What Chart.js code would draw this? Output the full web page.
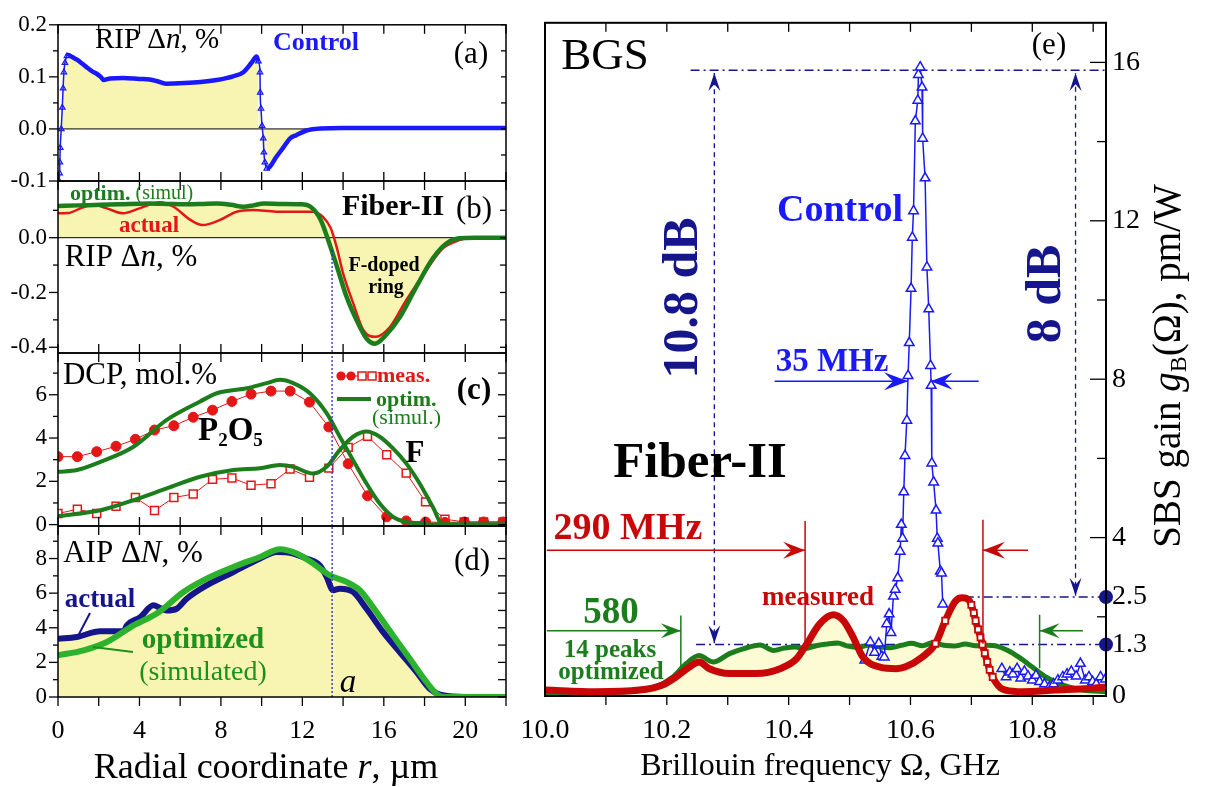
<!DOCTYPE html>
<html>
<head>
<meta charset="utf-8">
<script src="https://cdn.jsdelivr.net/npm/chart.js@4.4.1/dist/chart.umd.min.js"></script>
<style>
  body { margin: 0; background: #fff; }
  #wrap { position: relative; width: 1205px; height: 787px; }
  canvas { position: absolute; left: 0; top: 0; }
</style>
</head>
<body>
<div id="wrap">
  <canvas id="panelA" width="1205" height="787"></canvas>
  <canvas id="panelB" width="1205" height="787"></canvas>
  <canvas id="panelC" width="1205" height="787"></canvas>
  <canvas id="panelD" width="1205" height="787"></canvas>
  <canvas id="panelE" width="1205" height="787"></canvas>
</div>
<script>
// ---------- data ----------

// (a) Control fiber, refractive index profile, %
const rA = [0.05,0.08,0.09,0.11,0.16,0.21,0.25,0.29,0.34,0.44,0.52,0.7,0.93,1.2,1.42,1.7,1.9,2.1,2.24,2.56,3.2,4.0,4.5,4.85,5.3,6.2,7.0,7.8,8.6,9.1,9.5,9.75,9.84,9.92,9.93,9.97,10.02,10.08,10.11,10.16,10.25,10.4,10.7,11.06,11.4,11.7,12.2,12.9,14,16,18,20,22];
const dnControl = [-0.1,-0.085,-0.064,-0.036,0,0.041,0.078,0.109,0.127,0.14,0.142,0.138,0.133,0.125,0.118,0.11,0.106,0.1,0.094,0.097,0.098,0.096,0.095,0.092,0.087,0.088,0.09,0.094,0.101,0.109,0.127,0.139,0.13,0.109,0.07,0.039,0.006,-0.018,-0.045,-0.064,-0.076,-0.073,-0.055,-0.036,-0.018,-0.012,-0.003,0.001,0.002,0.002,0.002,0.002,0.002];

// (b) Fiber-II RIP: optimized and actual
const rOptB = [0,1,2.1,3,4.5,5.5,6.3,7.0,7.8,8.5,9.1,9.6,10.1,11,11.9,12.4,12.9,13.27,13.7,14.17,14.66,15.15,15.56,16.1,16.8,17.6,18.4,19.07,19.7,20.5,22];
const dnOptB = [0.116,0.118,0.12,0.122,0.125,0.123,0.122,0.123,0.125,0.12,0.113,0.118,0.125,0.123,0.122,0.113,0.065,-0.009,-0.106,-0.216,-0.301,-0.368,-0.387,-0.356,-0.289,-0.179,-0.076,-0.021,-0.002,0,0];
const rActB = [0,0.5,1.2,1.75,2.4,3.2,4.0,5.0,5.67,6.5,7.1,7.96,8.77,9.6,10.7,12.5,13.0,13.4,13.68,14.0,14.5,15.0,15.6,16.3,17.1,18.1,18.9,19.7,20.4,22];
const dnActB = [0.089,0.09,0.11,0.12,0.107,0.089,0.107,0.129,0.113,0.065,0.046,0.065,0.095,0.101,0.095,0.095,0.077,0.034,-0.033,-0.13,-0.24,-0.338,-0.362,-0.326,-0.228,-0.118,-0.039,-0.009,0,0];

// (c) dopant concentration profiles, mol.%
const rMeasC = [0,0.95,1.9,2.85,3.8,4.74,5.69,6.64,7.59,8.54,9.48,10.46,11.4,12.35,13.3,14.25,15.2,16.14,17.1,18.05,19.0,19.95,20.9,21.85];
const p2o5Meas = [3.14,3.14,3.37,3.62,3.94,4.37,4.57,4.96,5.29,5.69,6.03,6.17,6.17,5.66,4.51,2.81,1.33,0.36,0.17,0.12,0.1,0.12,0.12,0.12];
const fMeas = [0.51,0.71,0.51,0.85,1.25,0.65,1.25,1.41,2.09,2.15,1.82,1.89,2.57,2.19,2.61,3.57,4.08,3.23,2.38,1.05,0.25,0.12,0.12,0.12];
const rOptP = [0,0.93,2.08,3.71,5.34,6.98,7.8,9.26,10.25,10.9,11.55,12.37,13.19,13.84,14.49,15.15,15.8,16.45,17.1,17.76,18.4,22];
const p2o5Opt = [2.44,2.52,2.9,3.6,4.84,5.69,6.07,6.3,6.54,6.69,6.54,6.07,5.15,4.06,2.98,1.9,0.97,0.36,0.12,0.05,0,0];
const rOptF = [0,2.08,3.71,5.34,6.98,8.61,9.92,10.9,11.55,12.53,13.19,13.84,14.49,15.15,15.8,16.45,17.1,17.76,18.4,18.9,22];
const fOpt = [0.39,0.66,1.13,1.67,2.21,2.52,2.6,2.75,2.67,2.36,2.67,3.45,4.06,4.3,4.06,3.52,2.83,1.9,0.82,0,0];

// (d) acoustic index profile, %
const rActD = [0,0.93,2.08,3.22,3.38,4.04,4.69,5.02,5.34,5.83,6.32,7.3,8.61,9.92,10.74,11.55,12.2,12.86,13.19,13.51,13.84,14.49,15.15,15.96,16.78,17.6,18.25,18.9,20.05,22];
const dNAct = [3.37,3.47,3.8,3.8,4.14,4.62,5.3,5.14,5.0,5.1,5.68,6.45,7.22,8.0,8.38,8.29,8.0,7.6,6.94,6.17,6.26,6.07,5.1,3.76,2.6,1.45,0.48,0.1,0,0];
const rOptD = [0,1.26,2.4,3.71,4.85,6.16,7.3,8.61,9.92,10.9,11.72,12.53,13.35,14.17,14.82,15.64,16.45,17.27,18.09,18.74,19.07,22];
const dNOpt = [2.41,2.7,3.18,4.14,4.82,6.07,6.84,7.51,8.09,8.54,8.29,7.71,7.03,6.65,6.17,4.91,3.56,2.22,0.87,0.06,0,0];

const coreRadius = 13.46;   // "a", dotted line through (b)-(d)

// (e) Brillouin gain spectra, pm/W vs GHz
const fMeasE = [10.0,10.083,10.155,10.193,10.215,10.237,10.253,10.27,10.303,10.347,10.386,10.413,10.43,10.451,10.473,10.49,10.506,10.522,10.55,10.577,10.591,10.619,10.641,10.657,10.674,10.685,10.696,10.700,10.704,10.707,10.711,10.715,10.718,10.722,10.726,10.73,10.735,10.741,10.748,10.756,10.784,10.838,10.893,10.921];
const gMeas = [0.15,0.11,0.15,0.28,0.48,0.73,0.86,0.69,0.57,0.57,0.69,0.94,1.32,1.82,2.05,1.9,1.48,0.98,0.73,0.69,0.73,0.98,1.32,1.9,2.4,2.48,2.42,2.3,2.1,1.9,1.68,1.48,1.3,1.08,0.86,0.66,0.48,0.32,0.2,0.15,0.11,0.15,0.19,0.23];
const fOptE = [10.0,10.138,10.182,10.21,10.232,10.253,10.276,10.303,10.325,10.353,10.375,10.393,10.41,10.428,10.445,10.462,10.48,10.497,10.515,10.532,10.55,10.567,10.585,10.602,10.62,10.637,10.655,10.672,10.69,10.707,10.725,10.742,10.76,10.778,10.8,10.822,10.849,10.882,10.921];
const gOpt = [0.07,0.11,0.23,0.48,0.82,1.02,0.86,1.07,1.19,1.29,1.15,1.21,1.24,1.2,1.27,1.31,1.34,1.26,1.23,1.29,1.24,1.22,1.28,1.33,1.27,1.35,1.28,1.26,1.31,1.27,1.28,1.26,1.15,0.98,0.73,0.48,0.28,0.15,0.11];
const fCtrl = [10.525,10.534,10.541,10.548,10.553,10.557,10.561,10.565,10.568,10.572,10.575,10.579,10.583,10.585,10.587,10.589,10.591,10.594,10.596,10.598,10.601,10.603,10.605,10.608,10.612,10.613,10.616,10.619,10.620,10.624,10.627,10.630,10.633,10.634,10.635,10.638,10.642,10.644,10.645,10.649,10.651,10.653,10.70,10.75,10.757,10.763,10.768,10.775,10.781,10.787,10.793,10.8,10.806,10.812,10.82,10.828,10.835,10.842,10.85,10.857,10.864,10.872,10.879,10.887,10.893,10.899,10.905,10.912,10.92];
const gCtrl = [0.9,1.36,1.1,1.33,1.0,0.98,1.82,2.07,1.6,2.52,2.69,2.98,3.65,4.33,3.98,5.15,6.07,6.96,8.09,8.92,10.29,11.58,12.25,14.52,15.04,15.69,15.88,15.37,14.08,13.08,10.83,9.77,8.34,7.84,5.88,5.4,4.69,3.98,3.86,3.15,3.1,2.32,null,0.69,0.48,0.6,0.55,0.69,0.45,0.62,0.5,0.4,0.52,0.36,0.3,0.22,0.3,0.4,0.48,0.55,0.62,0.5,0.82,0.4,0.48,0.36,0.3,0.48,0.42];

// annotation levels in (e)
const gainLevels = [15.8, 2.5, 1.3];      // control peak, measured peak, optimized plateau
const levelStartX = [10.239, 10.689, 10.248];
const dBArrowX = [10.278, 10.871];         // 10.8 dB and 8 dB arrows
const fwhmCtrl = [10.596, 10.633];        // 35 MHz
const fwhmMeas = [10.427, 10.719];        // 290 MHz
const fwhmOpt = [10.223, 10.812];         // 580 MHz
const fMax = 10.921;

// tick labels
const xLabelsR = [0, 4, 8, 12, 16, 20];
const xLabelsF = [10.0, 10.2, 10.4, 10.6, 10.8];
const yLabelsA = [-0.1, 0, 0.1, 0.2];
const yLabelsB = [-0.4, -0.2, 0];
const yLabelsC = [0, 2, 4, 6];
const yLabelsD = [0, 2, 4, 6, 8];
const yLabelsE = [0, 1.3, 2.5, 4, 8, 12, 16];

// ---------- styles ----------
const SERIF = '"Liberation Serif", "DejaVu Serif", serif';
Chart.defaults.font.family = SERIF;
const BLUE = 'rgb(25,25,250)';
const NAVY = 'rgb(22,22,140)';
const RED = 'rgb(228,22,22)';
const DRED = 'rgb(200,8,8)';
const GREEN = 'rgb(28,125,28)';
const GREEN_D = 'rgb(28,145,28)';
const LGREEN = 'rgb(45,178,45)';
const YEL = 'rgb(248,245,178)';
const YEL2 = 'rgb(252,251,212)';
const DOT = 'rgb(40,40,215)';

function pts(xs, ys) { return xs.map((x, i) => ({ x: x, y: ys[i] })); }

function line(xs, ys, opt) {
  return Object.assign({
    data: pts(xs, ys), showLine: true, pointRadius: 0, borderWidth: 2,
    fill: false, spanGaps: false, tension: 0
  }, opt);
}

// true where the curve is steep (used to show markers only there)
function steepFlags(xs, ys, lim) {
  return ys.map((y, i) => {
    if (y == null) return false;
    let s = 0;
    if (i > 0 && ys[i - 1] != null) s = Math.max(s, Math.abs((y - ys[i - 1]) / (xs[i] - xs[i - 1])));
    if (i < ys.length - 1 && ys[i + 1] != null) s = Math.max(s, Math.abs((ys[i + 1] - y) / (xs[i + 1] - xs[i])));
    return s > lim;
  });
}

function R(t, size, style, color, dy) {
  return { t: t, font: (style || 'normal') + ' ' + size + 'px ' + SERIF, color: color, dy: dy || 0 };
}

function drawRuns(ctx, item) {
  ctx.save();
  ctx.translate(item.x, item.y);
  if (item.rot) ctx.rotate(item.rot);
  ctx.textBaseline = 'middle';
  ctx.textAlign = 'left';
  let w = 0;
  item.runs.forEach(r => { ctx.font = r.font; w += ctx.measureText(r.t).width; });
  let cx = item.align === 'left' ? 0 : (item.align === 'right' ? -w : -w / 2);
  item.runs.forEach(r => {
    ctx.font = r.font;
    ctx.fillStyle = r.color || item.color || '#000';
    ctx.fillText(r.t, cx, r.dy);
    cx += ctx.measureText(r.t).width;
  });
  ctx.restore();
}

// frame, inward/outward tick marks, arrow heads and the text labels
function decor(spec) {
  return {
    id: 'decor',
    afterDatasetsDraw(chart) {
      const ctx = chart.ctx;
      ctx.save();
      chart.data.datasets.forEach((ds, i) => {
        if (!ds.arrowEnd && !ds.arrowStart) return;
        const p = chart.getDatasetMeta(i).data;
        const head = (tip, from) => {
          const dx = tip.x - from.x, dy = tip.y - from.y, len = Math.hypot(dx, dy);
          const ux = dx / len, uy = dy / len, nx = -uy, ny = ux;
          const L = ds.headL, W = ds.headW / 2;
          ctx.beginPath();
          ctx.moveTo(tip.x, tip.y);
          ctx.lineTo(tip.x - ux * L + nx * W, tip.y - uy * L + ny * W);
          ctx.lineTo(tip.x - ux * L * 0.62, tip.y - uy * L * 0.62);
          ctx.lineTo(tip.x - ux * L - nx * W, tip.y - uy * L - ny * W);
          ctx.closePath();
          ctx.fill();
        };
        ctx.fillStyle = ds.borderColor;
        if (ds.arrowEnd) head(p[p.length - 1], p[0]);
        if (ds.arrowStart) head(p[0], p[p.length - 1]);
      });
      ctx.restore();
    },
    afterDraw(chart) {
      const ctx = chart.ctx, a = chart.chartArea, sx = chart.scales.x, sy = chart.scales.y;
      const seg = (x1, y1, x2, y2) => { ctx.beginPath(); ctx.moveTo(x1, y1); ctx.lineTo(x2, y2); ctx.stroke(); };
      ctx.save();
      ctx.strokeStyle = '#000';
      ctx.lineWidth = spec.frame;
      ctx.strokeRect(a.left, a.top, a.right - a.left, a.bottom - a.top);
      ctx.lineWidth = 1.3;
      spec.topTicks.forEach(v => { const p = sx.getPixelForValue(v); seg(p, a.top, p, a.top + spec.tl); });
      spec.bottomTicks.forEach(v => {
        const p = sx.getPixelForValue(v);
        seg(p, a.bottom, p, a.bottom + (spec.bottomOut ? spec.tl : -spec.tl));
      });
      (spec.leftMajor || []).forEach(v => { const p = sy.getPixelForValue(v); seg(a.left - 9, p, a.left, p); });
      (spec.leftMinor || []).forEach(v => { const p = sy.getPixelForValue(v); seg(a.left - 5, p, a.left, p); });
      (spec.rightMajor || []).forEach(v => { const p = sy.getPixelForValue(v); seg(a.right - spec.rl, p, a.right, p); });
      (spec.rightMinor || []).forEach(v => { const p = sy.getPixelForValue(v); seg(a.right - spec.rlm, p, a.right, p); });
      if (spec.extra) spec.extra(ctx, chart);
      spec.texts.forEach(t => drawRuns(ctx, t));
      ctx.restore();
    }
  };
}

function leftScales(ymin, ymax, yLabels, fmt, showX) {
  const x = {
    type: 'linear', min: 0, max: 22, display: showX,
    grid: { display: false, drawTicks: false }, border: { display: false },
    afterBuildTicks: s => { s.ticks = xLabelsR.map(v => ({ value: v })); },
    ticks: { color: '#000', font: { size: 26 }, padding: 19, maxRotation: 0, autoSkip: false }
  };
  if (showX) x.afterFit = s => { s.height = 50; };
  return {
    x: x,
    y: {
      type: 'linear', min: ymin, max: ymax,
      grid: { display: false, drawTicks: false }, border: { display: false },
      afterBuildTicks: s => { s.ticks = yLabels.map(v => ({ value: v })); },
      afterFit: s => { s.width = 50; },
      ticks: { color: '#000', font: { size: 23 }, padding: 11, autoSkip: false, callback: fmt }
    }
  };
}

function makeChart(id, datasets, scales, padding, spec) {
  return new Chart(document.getElementById(id), {
    type: 'scatter',
    data: { datasets: datasets },
    options: {
      responsive: false, animation: false, devicePixelRatio: 1,
      layout: { padding: padding },
      plugins: { legend: { display: false }, tooltip: { enabled: false }, filler: { drawTime: 'beforeDatasetsDraw' } },
      scales: scales
    },
    plugins: [decor(spec)]
  });
}

const rTicks = [0, 2, 4, 6, 8, 10, 12, 14, 16, 18, 20, 22];
const leftPad = (top, bottom, withX) => ({ left: 8, right: 699, top: top, bottom: 787 - bottom - (withX ? 50 : 0) });

// ---------- (a) ----------
const steepA = steepFlags(rA, dnControl, 0.12);
makeChart('panelA', [
  line(rA, dnControl, {
    order: 1, borderColor: BLUE, borderWidth: 4.5, fill: 'origin', backgroundColor: YEL,
    cubicInterpolationMode: 'monotone',
    pointStyle: 'triangle', pointBorderColor: BLUE, pointBackgroundColor: 'rgba(0,0,0,0)', pointBorderWidth: 1.2,
    pointRadius: c => steepA[c.dataIndex] ? 3.2 : 0,
    segment: { borderWidth: c => (steepA[c.p0DataIndex] && steepA[c.p1DataIndex]) ? 1.5 : 4.5 }
  }),
  line([0, 22], [0, 0], { order: 2, borderColor: '#000', borderWidth: 1 })
], leftScales(-0.1, 0.2, yLabelsA, v => v.toFixed(1), false), leftPad(16, 181, false), {
  frame: 1.5, tl: 9, rl: 5, rlm: 5, topTicks: rTicks, bottomTicks: rTicks,
  leftMajor: yLabelsA, leftMinor: [-0.05, 0.05, 0.15],
  rightMajor: [-0.1, -0.05, 0, 0.05, 0.1, 0.15, 0.2],
  texts: [
    { x: 157, y: 40, runs: [R('RIP Δ', 29), R('n', 29, 'italic'), R(', %', 29)] },
    { x: 316, y: 43, color: BLUE, runs: [R('Control', 26, 'bold')] },
    { x: 471, y: 55, runs: [R('(a)', 31)] }
  ]
});

// ---------- (b) ----------
makeChart('panelB', [
  line(rOptB, dnOptB, { order: 1, borderColor: GREEN, borderWidth: 4.5, fill: 'origin', backgroundColor: YEL, cubicInterpolationMode: 'monotone' }),
  line(rActB, dnActB, { order: 2, borderColor: RED, borderWidth: 2.5, fill: 'origin', backgroundColor: YEL, cubicInterpolationMode: 'monotone' }),
  line([0, 22], [0, 0], { order: 3, borderColor: '#000', borderWidth: 1 }),
  line([coreRadius, coreRadius], [-0.045, -0.421], { order: 0, borderColor: DOT, borderWidth: 1.3, borderDash: [2, 2] })
], leftScales(-0.421, 0.207, yLabelsB, v => v.toFixed(1), false), leftPad(181, 353, false), {
  frame: 1.5, tl: 9, rl: 6, rlm: 6, topTicks: rTicks, bottomTicks: rTicks,
  leftMajor: yLabelsB, leftMinor: [-0.3, -0.1, 0.1],
  rightMajor: [-0.4, -0.3, -0.2, -0.1, 0, 0.1],
  texts: [
    { x: 70, y: 194, align: 'left', color: GREEN, runs: [R('optim.', 22, 'bold'), R(' (simul)', 20)] },
    { x: 393, y: 207, runs: [R('Fiber-II', 30, 'bold')] },
    { x: 474, y: 210, runs: [R('(b)', 31)] },
    { x: 149, y: 226, color: RED, runs: [R('actual', 23, 'bold')] },
    { x: 131, y: 258, runs: [R('RIP Δ', 31), R('n', 31, 'italic'), R(', %', 31)] },
    { x: 384, y: 266, runs: [R('F-doped', 20, 'bold')] },
    { x: 386, y: 288, runs: [R('ring', 20, 'bold')] }
  ]
});

// ---------- (c) ----------
makeChart('panelC', [
  line(rOptP, p2o5Opt, { order: 1, borderColor: GREEN, borderWidth: 4, cubicInterpolationMode: 'monotone' }),
  line(rOptF, fOpt, { order: 2, borderColor: GREEN, borderWidth: 4, cubicInterpolationMode: 'monotone' }),
  line(rMeasC, p2o5Meas, { order: 3, borderColor: RED, borderWidth: 1, pointStyle: 'circle', pointRadius: 5, pointBackgroundColor: RED, pointBorderColor: RED }),
  line(rMeasC, fMeas, { order: 4, borderColor: RED, borderWidth: 1, pointStyle: 'rect', pointRadius: 5.6, pointBackgroundColor: '#fff', pointBorderColor: RED, pointBorderWidth: 1.5 }),
  line([coreRadius, coreRadius], [-0.065, 7.93], { order: 0, borderColor: DOT, borderWidth: 1.3, borderDash: [2, 2] })
], leftScales(-0.065, 7.93, yLabelsC, v => String(v), false), leftPad(353, 526, false), {
  frame: 1.5, tl: 9, rl: 8, rlm: 8, topTicks: rTicks, bottomTicks: rTicks,
  leftMajor: yLabelsC, leftMinor: [1, 3, 5, 7],
  rightMajor: [0, 1, 2, 3, 4, 5, 6, 7],
  extra: ctx => {
    ctx.strokeStyle = RED; ctx.fillStyle = RED; ctx.lineWidth = 1;
    ctx.beginPath(); ctx.moveTo(337, 376); ctx.lineTo(377, 376); ctx.stroke();
    [341, 351].forEach(x => { ctx.beginPath(); ctx.arc(x, 376, 4.6, 0, Math.PI * 2); ctx.fill(); });
    ctx.fillStyle = '#fff'; ctx.lineWidth = 1.5;
    [362, 372].forEach(x => { ctx.fillRect(x - 4, 372, 8, 8); ctx.strokeRect(x - 4, 372, 8, 8); });
    ctx.strokeStyle = GREEN; ctx.lineWidth = 4;
    ctx.beginPath(); ctx.moveTo(337, 399); ctx.lineTo(371, 399); ctx.stroke();
  },
  texts: [
    { x: 140, y: 376, runs: [R('DCP, mol.%', 31)] },
    { x: 198, y: 431, align: 'left', runs: [R('P', 33, 'bold'), R('2', 19, 'bold', null, 10), R('O', 33, 'bold'), R('5', 19, 'bold', null, 10)] },
    { x: 415, y: 454, runs: [R('F', 31, 'bold')] },
    { x: 474, y: 391, runs: [R('(c)', 31, 'bold')] },
    { x: 377, y: 376, align: 'left', color: RED, runs: [R('meas.', 22, 'bold')] },
    { x: 376, y: 400, align: 'left', color: GREEN, runs: [R('optim.', 22, 'bold')] },
    { x: 372, y: 418, align: 'left', color: GREEN, runs: [R('(simul.)', 22)] }
  ]
});

// ---------- (d) ----------
makeChart('panelD', [
  line(rOptD, dNOpt, { order: 1, borderColor: LGREEN, borderWidth: 6, fill: 'origin', backgroundColor: YEL, cubicInterpolationMode: 'monotone' }),
  line(rActD, dNAct, { order: 2, borderColor: NAVY, borderWidth: 6, fill: 'origin', backgroundColor: YEL, cubicInterpolationMode: 'monotone' }),
  line([coreRadius, coreRadius], [0, 9.88], { order: 0, borderColor: DOT, borderWidth: 1.3, borderDash: [2, 2] })
], leftScales(0, 9.88, yLabelsD, v => String(v), true), leftPad(526, 697, true), {
  frame: 1.5, tl: 9, rl: 8, rlm: 8, topTicks: rTicks, bottomTicks: rTicks, bottomOut: true,
  leftMajor: yLabelsD, leftMinor: [1, 3, 5, 7, 9],
  rightMajor: [0, 1, 2, 3, 4, 5, 6, 7, 8, 9],
  extra: ctx => {
    ctx.lineWidth = 2;
    ctx.strokeStyle = NAVY;
    ctx.beginPath(); ctx.moveTo(90, 613); ctx.lineTo(78, 636); ctx.stroke();
    ctx.strokeStyle = GREEN_D;
    ctx.beginPath(); ctx.moveTo(133, 652); ctx.lineTo(93, 647); ctx.stroke();
  },
  texts: [
    { x: 133, y: 554, runs: [R('AIP Δ', 31), R('N', 31, 'italic'), R(', %', 31)] },
    { x: 472, y: 562, runs: [R('(d)', 31)] },
    { x: 100, y: 600, color: NAVY, runs: [R('actual', 27, 'bold')] },
    { x: 203, y: 641, color: GREEN_D, runs: [R('optimized', 29, 'bold')] },
    { x: 203, y: 673, color: GREEN_D, runs: [R('(simulated)', 28)] },
    { x: 348, y: 683, runs: [R('a', 33, 'italic')] },
    { x: 266, y: 769, runs: [R('Radial coordinate ', 36), R('r', 36, 'italic'), R(', µm', 36)] }
  ]
});

// ---------- (e) ----------
const steepE = steepFlags(fMeasE, gMeas, 33);
const guide = (xs, ys, color, extra) => line(xs, ys, Object.assign({ order: 1, borderColor: color, borderWidth: 1.5 }, extra));
makeChart('panelE', [
  line([fMax, fMax], [gainLevels[1], gainLevels[2]], { order: 0, clip: false, showLine: false, pointRadius: 6, pointBackgroundColor: NAVY, pointBorderColor: NAVY }),
  // 290 MHz (measured) width markers and arrows
  guide([fwhmMeas[0], fwhmMeas[0]], [1.32, 4.42], DRED),
  guide([fwhmMeas[1], fwhmMeas[1]], [1.32, 4.45], DRED),
  guide([10.003, fwhmMeas[0]], [3.68, 3.68], DRED, { arrowEnd: true, headL: 22, headW: 17 }),
  guide([10.793, fwhmMeas[1]], [3.68, 3.68], DRED, { arrowEnd: true, headL: 22, headW: 17 }),
  // 580 MHz (optimized)
  guide([fwhmOpt[0], fwhmOpt[0]], [0.7, 2.03], GREEN),
  guide([fwhmOpt[1], fwhmOpt[1]], [0.7, 2.05], GREEN),
  guide([10.003, fwhmOpt[0]], [1.65, 1.65], GREEN, { arrowEnd: true, headL: 20, headW: 15 }),
  guide([10.883, fwhmOpt[1]], [1.65, 1.65], GREEN, { arrowEnd: true, headL: 20, headW: 15 }),
  // 35 MHz (control)
  guide([10.377, fwhmCtrl[0]], [7.95, 7.95], BLUE, { arrowEnd: true, headL: 24, headW: 18 }),
  guide([10.712, fwhmCtrl[1]], [7.95, 7.95], BLUE, { arrowEnd: true, headL: 22, headW: 17 }),
  // dB contrast arrows
  guide([dBArrowX[0], dBArrowX[0]], [1.33, 15.73], NAVY, { borderDash: [5, 4], borderWidth: 1.3, arrowEnd: true, arrowStart: true, headL: 18, headW: 12 }),
  guide([dBArrowX[1], dBArrowX[1]], [2.53, 15.73], NAVY, { borderDash: [5, 4], borderWidth: 1.3, arrowEnd: true, arrowStart: true, headL: 18, headW: 12 }),
  line(fMeasE, gMeas, {
    order: 2, borderColor: DRED, borderWidth: 7, fill: 'origin', backgroundColor: YEL2,
    cubicInterpolationMode: 'monotone',
    pointStyle: 'rect', pointBorderColor: DRED, pointBackgroundColor: '#fff', pointBorderWidth: 1.8,
    pointRadius: c => steepE[c.dataIndex] ? 4.3 : 0
  }),
  line(fCtrl, gCtrl, {
    order: 3, borderColor: BLUE, borderWidth: 1.5,
    pointStyle: 'triangle', pointRadius: 5.5, pointBorderColor: BLUE, pointBackgroundColor: '#fff', pointBorderWidth: 1.5
  }),
  line(fOptE, gOpt, { order: 4, borderColor: GREEN, borderWidth: 5, fill: 'origin', backgroundColor: YEL2, cubicInterpolationMode: 'monotone' }),
  // dash-dot reference levels
  guide([levelStartX[0], fMax], [gainLevels[0], gainLevels[0]], NAVY, { order: 5, borderDash: [9, 4, 2, 4] }),
  guide([levelStartX[1], fMax], [gainLevels[1], gainLevels[1]], NAVY, { order: 5, borderDash: [9, 4, 2, 4] }),
  guide([levelStartX[2], fMax], [gainLevels[2], gainLevels[2]], NAVY, { order: 5, borderDash: [9, 4, 2, 4] })
], {
  x: {
    type: 'linear', min: 10.0, max: fMax,
    grid: { display: false, drawTicks: false }, border: { display: false },
    afterBuildTicks: s => { s.ticks = xLabelsF.map(v => ({ value: v })); },
    afterFit: s => { s.height = 50; },
    ticks: { color: '#000', font: { size: 28 }, padding: 18, maxRotation: 0, autoSkip: false, callback: v => v.toFixed(1) }
  },
  y: {
    type: 'linear', position: 'right', min: 0, max: 17,
    grid: { display: false, drawTicks: false }, border: { display: false },
    afterBuildTicks: s => { s.ticks = yLabelsE.map(v => ({ value: v })); },
    afterFit: s => { s.width = 60; },
    ticks: { color: '#000', font: { size: 28 }, padding: 6, autoSkip: false, callback: v => (v === 1.3 || v === 2.5) ? v.toFixed(1) : String(v) }
  }
}, { left: 545, right: 39, top: 16, bottom: 41 }, {
  frame: 2, tl: 9, rl: 16, rlm: 9,
  topTicks: [10.1, 10.2, 10.3, 10.4, 10.5, 10.6, 10.7, 10.8, 10.9],
  bottomTicks: [10.1, 10.2, 10.3, 10.4, 10.5, 10.6, 10.7, 10.8, 10.9], bottomOut: true,
  rightMajor: [4, 8, 12, 16], rightMinor: [2, 6, 10, 14],
  texts: [
    { x: 605, y: 57, runs: [R('BGS', 45)] },
    { x: 1049, y: 46, runs: [R('(e)', 31)] },
    { x: 840, y: 211, color: BLUE, runs: [R('Control', 38, 'bold')] },
    { x: 832, y: 362, color: BLUE, runs: [R('35 MHz', 33, 'bold')] },
    { x: 684, y: 298, rot: -Math.PI / 2, color: NAVY, runs: [R('10.8 dB', 50, 'bold')] },
    { x: 1047, y: 294, rot: -Math.PI / 2, color: NAVY, runs: [R('8 dB', 50, 'bold')] },
    { x: 700, y: 464, runs: [R('Fiber-II', 51, 'bold')] },
    { x: 628, y: 529, color: DRED, runs: [R('290 MHz', 38, 'bold')] },
    { x: 818, y: 598, color: DRED, runs: [R('measured', 27, 'bold')] },
    { x: 611, y: 613, color: GREEN, runs: [R('580', 37, 'bold')] },
    { x: 610, y: 651, color: GREEN, runs: [R('14 peaks', 25, 'bold')] },
    { x: 611, y: 673, color: GREEN, runs: [R('optimized', 25, 'bold')] },
    { x: 820, y: 767, runs: [R('Brillouin frequency Ω, GHz', 32)] },
    { x: 1170, y: 366, rot: -Math.PI / 2, runs: [R('SBS gain ', 39), R('g', 39, 'italic'), R('B', 24, 'normal', null, 10), R('(Ω), pm/W', 39)] }
  ]
});
</script>
</body>
</html>
